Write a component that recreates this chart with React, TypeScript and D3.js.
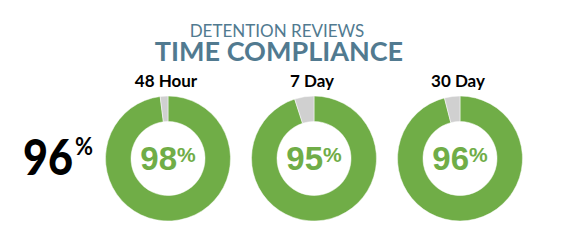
import React from "react";
import * as d3 from "d3";

const categories = ["48 Hour", "7 Day", "30 Day"];
const values = [98, 95, 96];
const overallValue = 96;
const titleLine1 = "DETENTION REVIEWS";
const titleLine2 = "TIME COMPLIANCE";

const W = 564;
const H = 241;
const GREEN = "#70AD47";
const GRAY = "#D0D0D0";
const TITLE = "#517A90";

export default function App() {
  const x = d3.scalePoint<string>().domain(categories).range([168, 460]);
  const cy = 158.5;
  const outerR = 62.5;
  const innerR = 37;
  const arc = d3.arc<d3.PieArcDatum<number>>().innerRadius(innerR).outerRadius(outerR);
  const pie = d3.pie<number>().sort(null).value((d) => d);

  return (
    <svg
      width={W}
      height={H}
      style={{ position: "absolute", left: 0, top: 0, background: "#fff" }}
    >
      <text
        x={277}
        y={36.5}
        textAnchor="middle"
        fontFamily="Lato, 'Open Sans', sans-serif"
        fontSize={17}
        fill={TITLE}
      >
        {titleLine1}
      </text>
      <text
        x={279}
        y={61}
        textAnchor="middle"
        fontFamily="Lato, 'Open Sans', sans-serif"
        fontWeight="bold"
        fontSize={27}
        fill={TITLE}
      >
        {titleLine2}
      </text>
      <text
        x={23}
        y={175}
        fontFamily="Lato, sans-serif"
        fontWeight="900"
        fontSize={50}
        fill="#000"
        textLength={50}
        lengthAdjust="spacingAndGlyphs"
      >
        {overallValue}
      </text>
      <text
        x={75}
        y={155}
        fontFamily="Lato, sans-serif"
        fontWeight="bold"
        fontSize={24}
        fill="#000"
        textLength={18}
        lengthAdjust="spacingAndGlyphs"
      >
        %
      </text>
      {categories.map((c, i) => {
        const cx = x(c)!;
        const arcs = pie([values[i], 100 - values[i]]);
        return (
          <g key={c}>
            <text
              x={cx - 2}
              y={87}
              textAnchor="middle"
              fontFamily="Lato, sans-serif"
              fontWeight="bold"
              fontSize={17}
              fill="#000"
            >
              {c}
            </text>
            <g transform={`translate(${cx},${cy})`}>
              {arcs.map((a, j) => (
                <path
                  key={j}
                  d={arc(a) || ""}
                  fill={j === 0 ? GREEN : GRAY}
                  stroke="#fff"
                  strokeWidth={0.5}
                />
              ))}
              <text
                x={0}
                y={11.5}
                textAnchor="middle"
                fontFamily="'Liberation Sans', Arial, sans-serif"
                fontWeight="bold"
                fontSize={33}
                fill={GREEN}
              >
                {values[i]}
                <tspan fontSize={21} dy={-8}>%</tspan>
              </text>
            </g>
          </g>
        );
      })}
    </svg>
  );
}
